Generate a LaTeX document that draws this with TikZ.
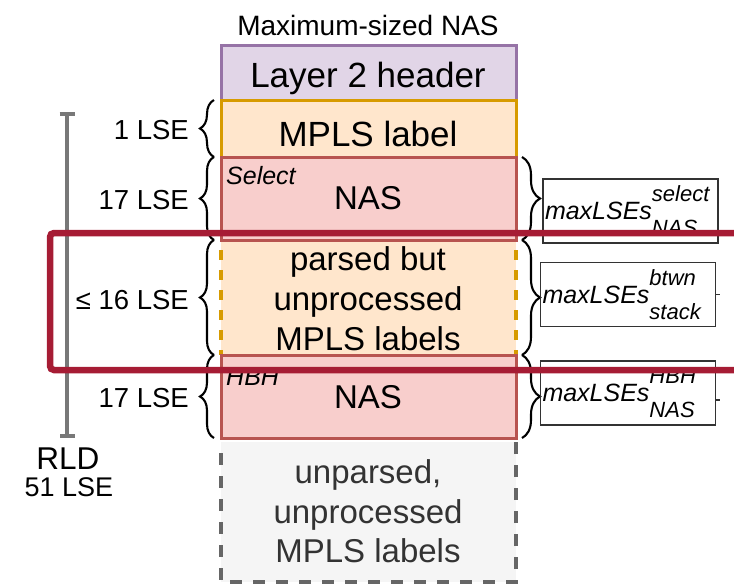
\documentclass[tikz,border=0pt]{standalone}
\usepackage{fontspec}
\setmainfont{Liberation Sans}
\usepackage{xcolor}
\usepackage{tikz}
\usetikzlibrary{arrows.meta}
\usetikzlibrary{decorations.pathreplacing}
\definecolor{lyrfill}{HTML}{E1D5E7}
\definecolor{lyrline}{HTML}{9673A6}
\definecolor{mplsfill}{HTML}{FFE6CC}
\definecolor{mplsline}{HTML}{D79B00}
\definecolor{nasfill}{HTML}{F8CECC}
\definecolor{nasline}{HTML}{B85450}
\definecolor{unpfill}{HTML}{F5F5F5}
\definecolor{unpline}{HTML}{666666}
\definecolor{hlred}{RGB}{166,28,52}
\definecolor{rldgray}{HTML}{787878}
\newcommand{\fsz}[1]{\fontsize{#1}{#1}\selectfont}
\newcommand{\maxlse}[2]{\makebox[171pt][l]{\fsz{25}\itshape maxLSEs\smash{\rlap{\raisebox{18pt}{\fsz{22}#1}}\raisebox{-16pt}{\fsz{22}#2}}}}
\newcommand{\bararrow}{{Bar[width=15pt]}-{Bar[width=15pt]}}
\tikzset{
	layer/.style={draw,line width=3pt,minimum width=295pt,inner sep=0pt,outer sep=0pt},
	txt/.style={inner sep=0pt,anchor=base},
	lbrace/.style={decorate,decoration={brace,amplitude=14pt},line width=2.1pt},
	rbrace/.style={decorate,decoration={brace,amplitude=18pt},line width=2.1pt},
	maxbox/.style={draw=black!80,line width=1.7pt,minimum width=175pt,minimum height=64pt,inner sep=0pt},
}

\begin{document}
\begin{tikzpicture}[x=1pt,y=-1pt]
		\path[use as bounding box,clip] (0,0) rectangle (734,584);
		\node[layer,draw=lyrline,fill=lyrfill,minimum height=55pt] (lyr) at (368.5,72.5) {};
		\node[layer,draw=mplsline,fill=mplsfill,minimum height=57pt] (mpls) at (368.5,128.5) {};
		\node[fill=mplsfill,minimum width=295pt,minimum height=115pt,inner sep=0pt,outer sep=0pt] (parsed) at (368.5,297.5) {};
		\draw[mplsline,line width=3.5pt,dash pattern=on 10pt off 10pt,dash phase=10pt] (parsed.north west) -- (parsed.south west);
		\draw[mplsline,line width=3.5pt,dash pattern=on 10pt off 10pt,dash phase=10pt] (parsed.north east) -- (parsed.south east);
		\node[fill=unpfill,minimum width=295pt,minimum height=140pt,inner sep=0pt,outer sep=0pt] (unparsed) at (368.5,512) {};
		\draw[unpline,line width=3.5pt,dash pattern=on 12pt off 11pt,dash phase=12pt] (unparsed.north west) -- (unparsed.south west) -- (unparsed.south east) -- (unparsed.north east);
		\node[layer,draw=nasline,fill=nasfill,minimum height=83pt] (selnas) at (368.5,198.5) {};
		\node[layer,draw=nasline,fill=nasfill,minimum height=83pt] (hbhnas) at (368.5,396.5) {};

		\node[txt,font=\fsz{28}] (title) at (368,35) {Maximum-sized NAS};
		\node[txt,font=\fsz{35}] (lyrtxt) at (368,87) {Layer 2 header};
		\node[txt,font=\fsz{35}] (mplstxt) at (368,146) {MPLS label};
		\node[txt,anchor=base west,font=\fsz{25}\itshape] (seltxt) at (226,184) {Select};
		\node[txt,font=\fsz{33}] (selnastxt) at (368,209) {NAS};
		\node[txt,font=\fsz{33}] (parsedA) at (368,270) {parsed but};
		\node[txt,font=\fsz{33}] (parsedB) at (368,310) {unprocessed};
		\node[txt,font=\fsz{33}] (parsedC) at (368,350) {MPLS labels};
		\node[txt,anchor=base west,font=\fsz{25}\itshape] (hbhtxt) at (226,385) {HBH};
		\node[txt,font=\fsz{33}] (hbhnastxt) at (368,408) {NAS};
		\node[txt,font=\fsz{33},text=black!80] (unpA) at (368,483) {unparsed,};
		\node[txt,font=\fsz{33},text=black!80] (unpB) at (368,523) {unprocessed};
		\node[txt,font=\fsz{33},text=black!80] (unpC) at (368,562) {MPLS labels};

		\draw[lbrace] ([xshift=-7pt]mpls.south west) -- ([xshift=-7pt]mpls.north west);
		\draw[lbrace] ([xshift=-7pt]selnas.south west) -- ([xshift=-7pt]selnas.north west);
		\draw[lbrace] ([xshift=-7pt]parsed.south west) -- ([xshift=-7pt]parsed.north west);
		\draw[lbrace] ([xshift=-7pt]hbhnas.south west) -- ([xshift=-7pt]hbhnas.north west);
		\node[txt,anchor=base east,font=\fsz{27.5}] (lse1) at (189,139) {1 LSE};
		\node[txt,anchor=base east,font=\fsz{27.5}] (lse2) at (189,209) {17 LSE};
		\node[txt,anchor=base east,font=\fsz{27.5}] (lse3) at (189,309) {≤ 16 LSE};
		\node[txt,anchor=base east,font=\fsz{27.5}] (lse4) at (189,407) {17 LSE};

		\coordinate (rldtop) at (67,112);
		\coordinate (rldbot) at (67,438);
		\draw[rldgray,line width=4pt,\bararrow] (rldtop) -- (rldbot);
		\node[txt,font=\fsz{31.5}] (rld) at (68,469) {RLD};
		\node[txt,font=\fsz{27}] (rldlse) at (69,496) {51 LSE};

		\draw[rbrace] ([xshift=6pt]selnas.north east) -- ([xshift=6pt]selnas.south east);
		\draw[rbrace] ([xshift=6pt]parsed.north east) -- ([xshift=6pt]parsed.south east);
		\draw[rbrace] ([xshift=6pt]hbhnas.north east) -- ([xshift=6pt]hbhnas.south east);
		\node[maxbox] (mx1) at (630.5,211) {\maxlse{select}{NAS}};
		\node[maxbox] (mx2) at (628,294.5) {\maxlse{btwn}{stack}};
		\node[maxbox] (mx3) at (628,393) {\maxlse{HBH}{NAS}};
		\draw[black!80,line width=1.7pt] (mx2.east) -- ++(4,0);
		\draw[black!80,line width=1.7pt] ([yshift=-7pt]mx3.east) -- ++(4,0);

		\draw[hlred,line width=6.5pt,rounded corners=4pt] (50,233) rectangle (780,370);
		\end{tikzpicture}
\end{document}
